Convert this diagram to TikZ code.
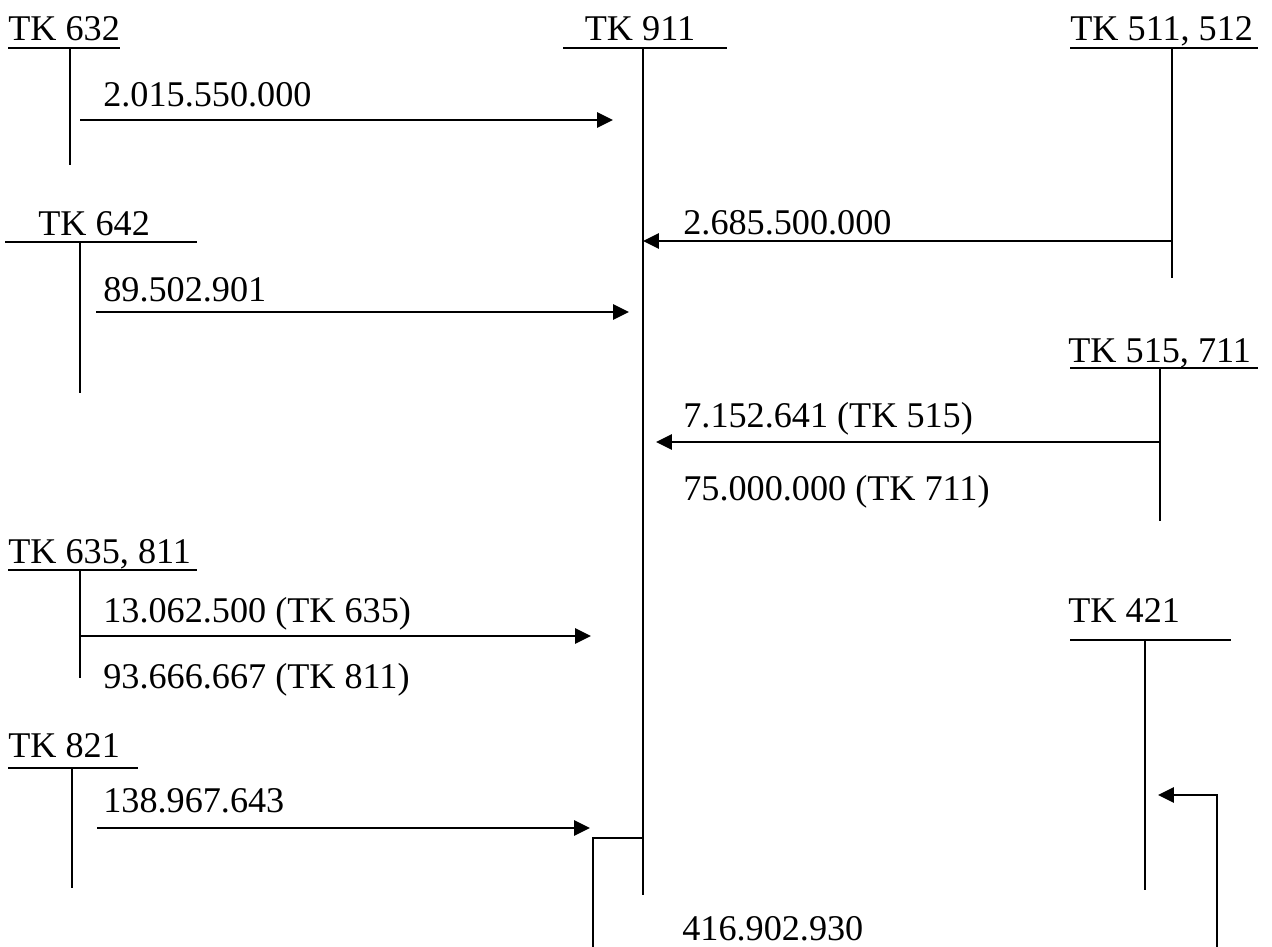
\documentclass[tikz,border=0pt]{standalone}
\usepackage{fontspec}
\setmainfont{Liberation Serif}
\usetikzlibrary{arrows.meta}

\tikzset{
  txt/.style={anchor=base west, inner sep=0pt, font=\fontsize{20.6}{24}\selectfont},
  tline/.style={line width=1.1pt},
  flow/.style={line width=1.5pt, -{Triangle[length=9pt,width=8.5pt]}}
}

\begin{document}
\begin{tikzpicture}[x=0.02cm, y=-0.02cm]
  \useasboundingbox (0,0) rectangle (1272,947);

  % account headings
  \node[txt] (tk632) at (8,40) {TK 632};
  \node[txt, anchor=base] (tk911) at (640,40) {TK 911};
  \node[txt] (tk511) at (1070,40) {TK 511, 512};
  \node[txt] (tk642) at (38,235) {TK 642};
  \node[txt] (tk515) at (1068,362) {TK 515, 711};
  \node[txt] (tk635) at (8,563) {TK 635, 811};
  \node[txt] (tk421) at (1068,622) {TK 421};
  \node[txt] (tk821) at (8,757) {TK 821};

  % T lines
  \draw[tline] (8,48) -- (120,48) (70,48) -- (70,165); % TK 632
  \draw[tline] (563,48) -- (727,48) (643,48) -- (643,895); % TK 911
  \draw[tline] (1070,48) -- (1258,48) (1172,48) -- (1172,278); % TK 511, 512
  \draw[tline] (5,242) -- (197,242) (80,242) -- (80,393); % TK 642
  \draw[tline] (1070,368) -- (1258,368) (1160,368) -- (1160,521); % TK 515, 711
  \draw[tline] (8,570) -- (197,570) (80,570) -- (80,678); % TK 635, 811
  \draw[tline] (1070,640) -- (1231,640) (1145,640) -- (1145,890); % TK 421
  \draw[tline] (8,768) -- (138,768) (72,768) -- (72,888); % TK 821

  % amounts
  \node[txt] (v632) at (103,106) {2.015.550.000};
  \node[txt] (v511) at (683,234) {2.685.500.000};
  \node[txt] (v642) at (103,301) {89.502.901};
  \node[txt] (v515) at (683,427) {7.152.641 (TK 515)};
  \node[txt] (v711) at (683,500) {75.000.000 (TK 711)};
  \node[txt] (v635) at (103,622) {13.062.500 (TK 635)};
  \node[txt] (v811) at (103,688) {93.666.667 (TK 811)};
  \node[txt] (v821) at (103,812) {138.967.643};
  \node[txt] (v421) at (682,940) {416.902.930};

  % arrow ends
  \coordinate (a1) at (80,120);   \coordinate (b1) at (613,120);
  \coordinate (a2) at (1172,241); \coordinate (b2) at (643,241);
  \coordinate (a3) at (96,312);   \coordinate (b3) at (629,312);
  \coordinate (a4) at (1160,442); \coordinate (b4) at (656,442);
  \coordinate (a5) at (80,636);   \coordinate (b5) at (591,636);
  \coordinate (a6) at (97,828);   \coordinate (b6) at (590,828);
  \coordinate (c1) at (643,838);  \coordinate (c2) at (593,947);
  \coordinate (d1) at (1217,947); \coordinate (d2) at (1158,795);

  \draw[flow] (a1) -- (b1);
  \draw[flow] (a2) -- (b2);
  \draw[flow] (a3) -- (b3);
  \draw[flow] (a4) -- (b4);
  \draw[flow] (a5) -- (b5);
  \draw[flow] (a6) -- (b6);

  % closing entry
  \draw[tline] (c1) -| (c2);
  \draw[flow] (d1) |- (d2);
\end{tikzpicture}
\end{document}
